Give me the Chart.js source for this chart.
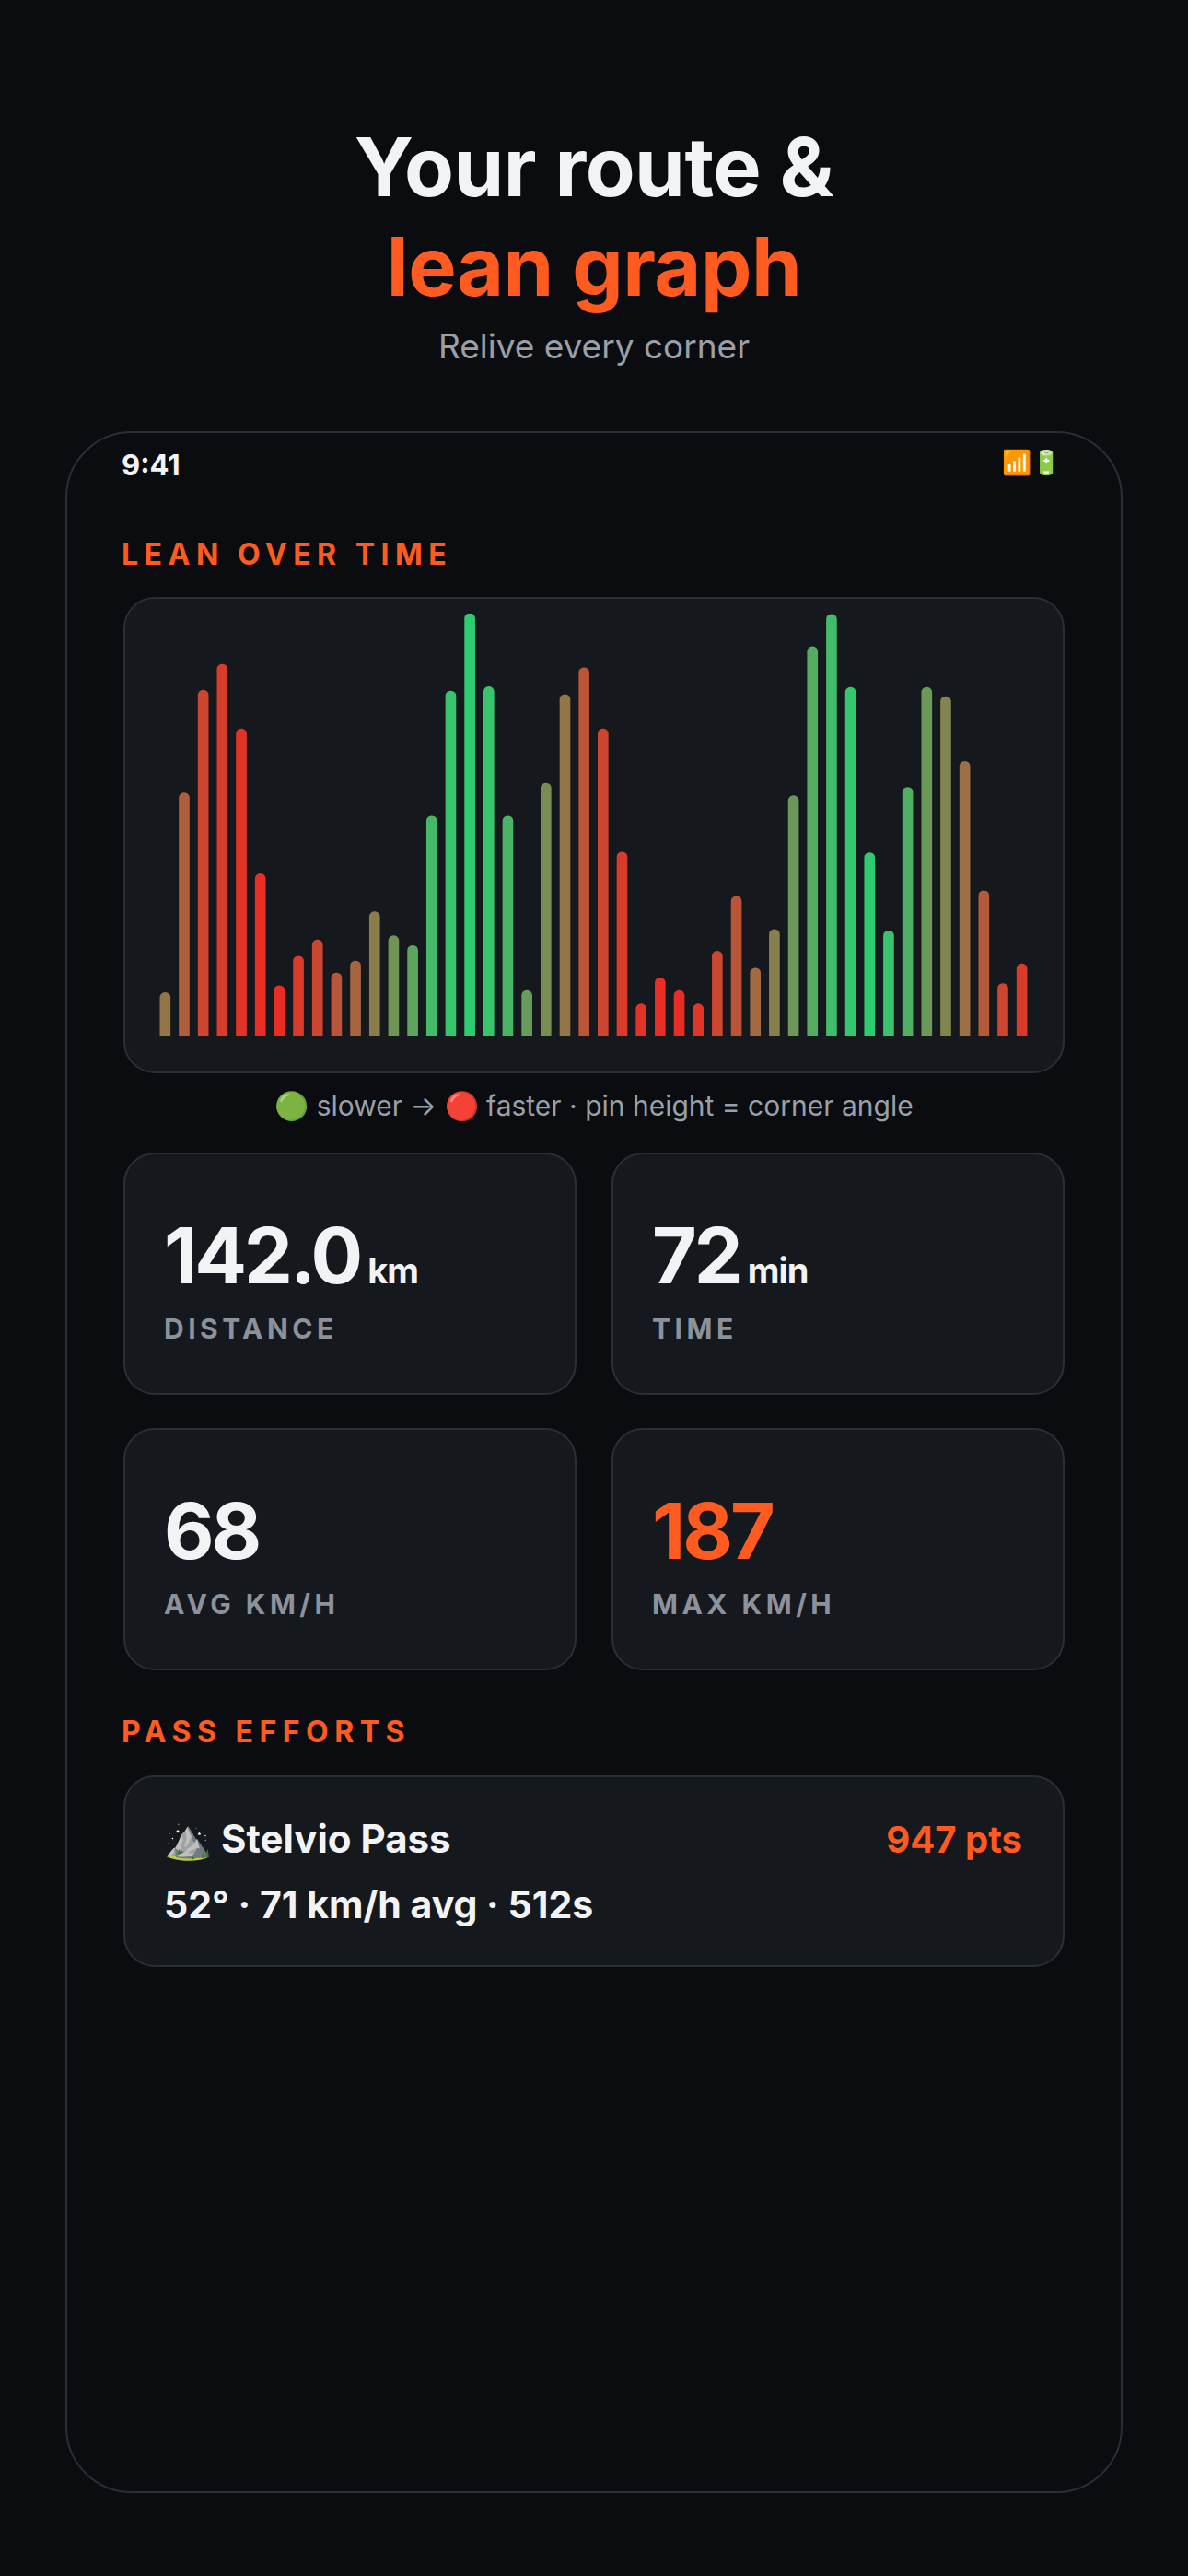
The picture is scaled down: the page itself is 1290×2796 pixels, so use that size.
<!DOCTYPE html>
<html><head><meta charset="utf-8">
<script src="https://cdn.jsdelivr.net/npm/chart.js@4"></script>
<style>
html,body{margin:0;padding:0;background:#0b0c10;width:1290px;height:2796px;overflow:hidden;font-family:Inter,"Noto Sans",sans-serif;color:#f2f3f5}
.abs{position:absolute}
.t{position:absolute;white-space:nowrap}
.card{position:absolute;background:#15181d;border:2px solid #2a2e35;border-radius:34px;box-sizing:border-box}
.big{font-weight:700;font-size:84px;letter-spacing:-3px}
.unit{font-weight:700;font-size:38px;letter-spacing:-1px}
.lbl{font-weight:700;font-size:30px;letter-spacing:4.5px;color:#8b929c}
.sec{font-weight:700;font-size:32px;letter-spacing:6.5px;color:#ff5a1f}
.ttl{left:0;width:1290px;text-align:center;font-size:88px;font-weight:700;letter-spacing:-0.5px;line-height:108px;height:108px}
</style></head><body>
<div class="t ttl" style="top:127px">Your route &amp;</div>
<div class="t ttl" style="top:235px;color:#ff5a1f">lean graph</div>
<div class="t" style="left:0;width:1290px;text-align:center;top:354px;font-size:37px;line-height:44px;color:#9aa0a8">Relive every corner</div>

<div class="abs" style="left:71px;top:468px;width:1148px;height:2238px;border:2px solid #2a2d33;border-radius:72px;box-sizing:border-box;background:#0b0c10"></div>
<div class="t" style="left:132px;top:486px;font-size:31px;font-weight:700">9:41</div>
<div class="t" style="left:1088px;top:486px;font-size:26px">📶🔋</div>
<div class="t sec" style="left:132px;top:582px">LEAN OVER TIME</div>

<div class="card" style="left:134px;top:648px;width:1022px;height:517px"></div>
<div class="abs" style="left:134px;top:648px;width:1022px;height:517px"><canvas id="c"></canvas></div>
<div class="t" style="left:0;width:1290px;text-align:center;top:1182px;font-size:30px;color:#9aa0a8">🟢 slower → 🔴 faster · pin height = corner angle</div>

<div class="card" style="left:134px;top:1251px;width:492px;height:263px"></div>
<div class="t" style="left:178px;top:1312px"><span class="big">142.0</span><span class="unit"> km</span></div>
<div class="t lbl" style="left:178px;top:1424px">DISTANCE</div>
<div class="card" style="left:664px;top:1251px;width:492px;height:263px"></div>
<div class="t" style="left:708px;top:1312px"><span class="big">72</span><span class="unit"> min</span></div>
<div class="t lbl" style="left:708px;top:1424px">TIME</div>
<div class="card" style="left:134px;top:1550px;width:492px;height:263px"></div>
<div class="t" style="left:178px;top:1611px"><span class="big">68</span></div>
<div class="t lbl" style="left:178px;top:1723px">AVG KM/H</div>
<div class="card" style="left:664px;top:1550px;width:492px;height:263px"></div>
<div class="t" style="left:708px;top:1611px"><span class="big" style="color:#ff5a1f">187</span></div>
<div class="t lbl" style="left:708px;top:1723px">MAX KM/H</div>

<div class="t sec" style="left:132px;top:1860px">PASS EFFORTS</div>
<div class="card" style="left:134px;top:1927px;width:1022px;height:208px"></div>
<div class="t" style="left:178px;top:1970px;font-size:42px;font-weight:700">⛰️ Stelvio Pass</div>
<div class="t" style="right:180px;top:1972px;font-size:40px;font-weight:700;color:#ff5a1f">947 pts</div>
<div class="t" style="left:178px;top:2042px;font-size:41px;font-weight:700">52° · 71 km/h avg · 512s</div>

<script>
const corners = Array.from({length:46},(_, i)=>String(i+1));
const leanAngles = [6.1,34.5,49.1,52.8,43.6,23,7.1,11.3,13.6,8.9,10.6,17.6,14.2,12.8,31.2,49,60,49.6,31.2,6.4,35.9,48.5,52.3,43.6,26.1,4.5,8.2,6.4,4.5,12,19.8,9.6,15.1,34.1,55.3,59.9,49.5,26,14.9,35.3,49.5,48.2,39,20.6,7.4,10.2];
const speedIndex = [0.55,0.7,0.85,0.9,0.97,1,1,0.92,0.85,0.75,0.65,0.5,0.35,0.25,0.12,0.05,0,0.05,0.15,0.3,0.4,0.55,0.75,0.85,0.92,0.97,1,1,0.95,0.85,0.75,0.62,0.48,0.33,0.2,0.1,0.03,0,0.05,0.18,0.32,0.45,0.58,0.72,0.85,0.92];
function mix(t){const g=[46,204,113],r=[232,46,36];return 'rgb('+g.map((v,i)=>Math.round(v+(r[i]-v)*t)).join(',')+')';}
new Chart(document.getElementById('c'),{
  type:'bar',
  data:{labels:corners,datasets:[{data:leanAngles,backgroundColor:speedIndex.map(mix),barThickness:11,borderRadius:6,borderSkipped:'start'}]},
  options:{responsive:true,maintainAspectRatio:false,animation:false,
    layout:{padding:{left:35,right:36,top:18,bottom:41}},
    plugins:{legend:{display:false},tooltip:{enabled:false}},
    scales:{x:{display:false},y:{display:false,min:0,max:60}}}
});
</script>
</body></html>
